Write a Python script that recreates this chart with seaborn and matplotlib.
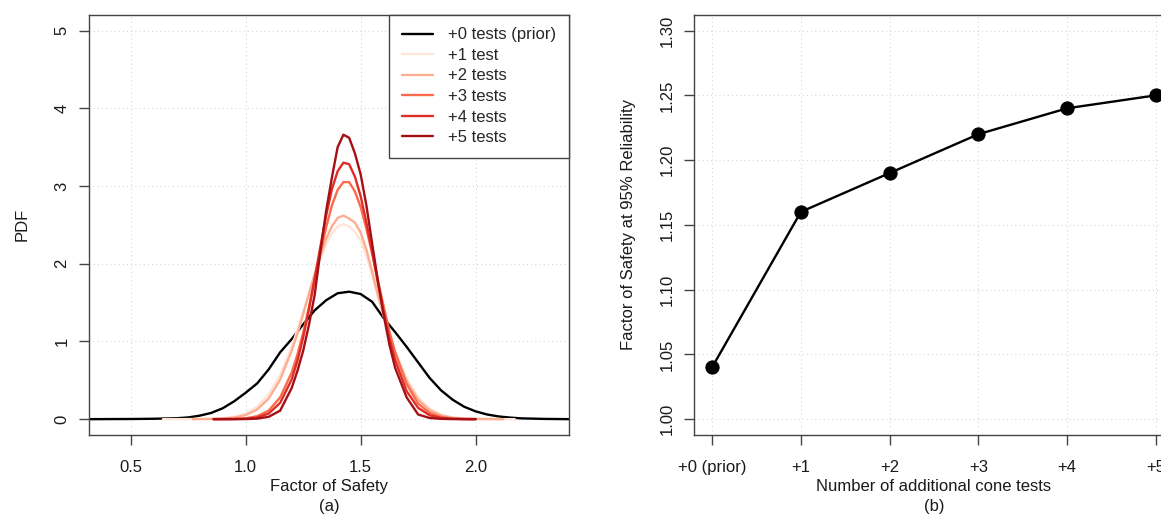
import numpy as np
import pandas as pd
import matplotlib
matplotlib.use("Agg")
import matplotlib.pyplot as plt
import seaborn as sns

# ---------------- data ----------------
SERIES = ["+0 tests (prior)", "+1 test", "+2 tests", "+3 tests", "+4 tests", "+5 tests"]
COLORS = ["#000000", "#FEE5D9", "#FCAE91", "#FB6A4A", "#DE2D26", "#A50F15"]

PRIOR_X = [0.32, 0.5, 0.6, 0.7, 0.75, 0.8, 0.85, 0.9, 0.95, 1.0, 1.05, 1.1, 1.15, 1.2, 1.25,
           1.3, 1.35, 1.4, 1.45, 1.5, 1.55, 1.6, 1.65, 1.7, 1.75, 1.8, 1.85, 1.9, 1.95, 2.0,
           2.05, 2.1, 2.15, 2.2, 2.3, 2.41]
PRIOR_Y = [0.0, 0.002, 0.005, 0.012, 0.022, 0.045, 0.08, 0.14, 0.23, 0.34, 0.46, 0.64, 0.86,
           1.03, 1.22, 1.40, 1.53, 1.62, 1.64, 1.61, 1.51, 1.30, 1.12, 0.93, 0.73, 0.53, 0.37,
           0.25, 0.16, 0.10, 0.06, 0.035, 0.02, 0.01, 0.003, 0.0]

RED_X = [0.64, 0.77, 0.86, 0.9, 0.95, 1.0, 1.05, 1.1, 1.15, 1.2, 1.225, 1.25, 1.275, 1.3,
         1.325, 1.35, 1.375, 1.4, 1.425, 1.45, 1.475, 1.5, 1.525, 1.55, 1.575, 1.6, 1.625,
         1.65, 1.7, 1.75, 1.8, 1.85, 1.9, 1.95, 2.0, 2.12, 2.17]
nan = np.nan
PLUS1_Y = [0, 0.001, 0.005, 0.012, 0.03, 0.074, 0.16, 0.32, 0.57, 0.93, 1.15, 1.38, 1.62, 1.85,
           2.06, 2.25, 2.39, 2.48, 2.51, 2.48, 2.41, 2.30, 2.10, 1.85, 1.57, 1.33, 1.09, 0.88,
           0.52, 0.28, 0.135, 0.06, 0.023, 0.008, 0.003, 0.0, 0.0]
PLUS2_Y = [nan, 0, 0.003, 0.007, 0.02, 0.052, 0.125, 0.265, 0.51, 0.88, 1.10, 1.35, 1.61, 1.87,
           2.11, 2.32, 2.48, 2.59, 2.62, 2.58, 2.53, 2.40, 2.18, 1.90, 1.60, 1.33, 1.08, 0.85,
           0.49, 0.25, 0.115, 0.048, 0.017, 0.006, 0.002, 0.0, nan]
PLUS3_Y = [nan, nan, 0, 0.001, 0.003, 0.011, 0.038, 0.11, 0.28, 0.60, 0.83, 1.11, 1.44, 1.79,
           2.14, 2.47, 2.75, 2.95, 3.05, 3.05, 2.93, 2.73, 2.45, 2.13, 1.79, 1.45, 1.13, 0.86,
           0.45, 0.20, 0.08, 0.027, 0.008, 0.002, 0.0, nan, nan]
PLUS4_Y = [nan, nan, 0, 0.001, 0.002, 0.005, 0.021, 0.072, 0.21, 0.51, 0.75, 1.05, 1.41, 1.81,
           2.22, 2.62, 2.96, 3.19, 3.30, 3.28, 3.12, 2.87, 2.53, 2.15, 1.75, 1.38, 1.04, 0.76,
           0.36, 0.145, 0.05, 0.015, 0.004, 0.001, 0.0, nan, nan]
PLUS5_Y = [nan, nan, 0, 0, 0, 0.001, 0.007, 0.03, 0.11, 0.40, 0.62, 0.88, 1.21, 1.60,
           2.16, 2.68, 3.11, 3.50, 3.66, 3.62, 3.42, 3.15, 2.75, 2.26, 1.78, 1.34, 0.96, 0.66,
           0.28, 0.06, 0.015, 0.004, 0.001, 0, 0, nan, nan]

PDF_XTICKS = [0.5, 1.0, 1.5, 2.0]
PDF_XTICKLABELS = ["0.5", "1.0", "1.5", "2.0"]
PDF_YTICKS = [0, 1, 2, 3, 4, 5]

TEST_N = [0, 1, 2, 3, 4, 5]
TEST_LABELS = ["+0 (prior)", "+1", "+2", "+3", "+4", "+5"]
FOS_95 = [1.04, 1.16, 1.19, 1.22, 1.24, 1.25]
FOS_YTICKS = [1.00, 1.05, 1.10, 1.15, 1.20, 1.25, 1.30]

# ---------------- style ----------------
sns.set_style("ticks")
plt.rcParams["font.family"] = ["Liberation Sans", "DejaVu Sans"]
plt.rcParams["font.size"] = 12

FRAME = "#444444"
GRID = dict(color="#d3d3d3", linestyle=(0, (1, 3)), linewidth=0.75)

fig = plt.figure(figsize=(11.61, 5.15), dpi=100)
ax1 = fig.add_axes([89.3 / 1161, 1 - 434.7 / 515, (569 - 89.3) / 1161, (434.7 - 15) / 515])
ax2 = fig.add_axes([694.3 / 1161, 1 - 434.7 / 515, (1173.8 - 694.3) / 1161, (434.7 - 15) / 515])

# ---------------- panel (a) ----------------
frames = [pd.DataFrame({"fos": PRIOR_X, "pdf": PRIOR_Y, "series": SERIES[0]})]
for name, ys in zip(SERIES[1:], [PLUS1_Y, PLUS2_Y, PLUS3_Y, PLUS4_Y, PLUS5_Y]):
    frames.append(pd.DataFrame({"fos": RED_X, "pdf": ys, "series": name}))
df = pd.concat(frames, ignore_index=True).dropna()

sns.lineplot(data=df, x="fos", y="pdf", hue="series", hue_order=SERIES,
             palette=dict(zip(SERIES, COLORS)), sort=False, estimator=None,
             linewidth=1.7, ax=ax1, legend=True)

ax1.set_xlim(0.32, 2.406)
ax1.set_ylim(-0.2, 5.2)
ax1.set_xticks(PDF_XTICKS, PDF_XTICKLABELS)
ax1.set_yticks(PDF_YTICKS, [str(v) for v in PDF_YTICKS], rotation=90, va="center")
ax1.grid(True, **GRID)
ax1.set_axisbelow(True)
ax1.set_xlabel("Factor of Safety\n(a)", linespacing=1.45)
ax1.set_ylabel("PDF")

handles, labels = ax1.get_legend_handles_labels()
leg = ax1.legend(handles, labels, loc="upper right", borderaxespad=0, fancybox=False,
                 frameon=True, framealpha=1, edgecolor=FRAME, handlelength=1.9,
                 handletextpad=0.9, labelspacing=0.33, borderpad=0.75, fontsize=12)
leg.get_frame().set_linewidth(1.0)
for line in leg.get_lines():
    line.set_linewidth(1.7)

# ---------------- panel (b) ----------------
sns.lineplot(x=TEST_N, y=FOS_95, color="black", linewidth=1.7, marker="o",
             markersize=9.5, markeredgecolor="black", ax=ax2)
ax2.set_xlim(-0.2, 5.2)
ax2.set_ylim(0.988, 1.312)
ax2.set_xticks(TEST_N, TEST_LABELS)
ax2.set_yticks(FOS_YTICKS, [f"{v:.2f}" for v in FOS_YTICKS], rotation=90, va="center")
ax2.grid(True, **GRID)
ax2.set_axisbelow(True)
ax2.set_xlabel("Number of additional cone tests\n(b)", linespacing=1.45)
ax2.set_ylabel("Factor of Safety at 95% Reliability")

for ax in (ax1, ax2):
    for sp in ax.spines.values():
        sp.set_visible(True)
        sp.set_color(FRAME)
        sp.set_linewidth(1.0)
    ax.tick_params(axis="both", direction="out", length=7.2, width=1.0, color=FRAME,
                   labelsize=12, labelcolor="#1a1a1a")
    ax.tick_params(axis="x", pad=11)
    ax.tick_params(axis="y", pad=7)
    ax.xaxis.label.set_color("#1a1a1a")
    ax.yaxis.label.set_color("#1a1a1a")

ax1.xaxis.set_label_coords(0.5, (434.7 - 479) / 419.7)
ax2.xaxis.set_label_coords(0.5, (434.7 - 479) / 419.7)
ax1.yaxis.set_label_coords((29.5 - 89.3) / 479.7, 0.5)
ax2.yaxis.set_label_coords((635.5 - 694.3) / 479.5, 0.5)

fig.savefig("out.png", dpi=100)
